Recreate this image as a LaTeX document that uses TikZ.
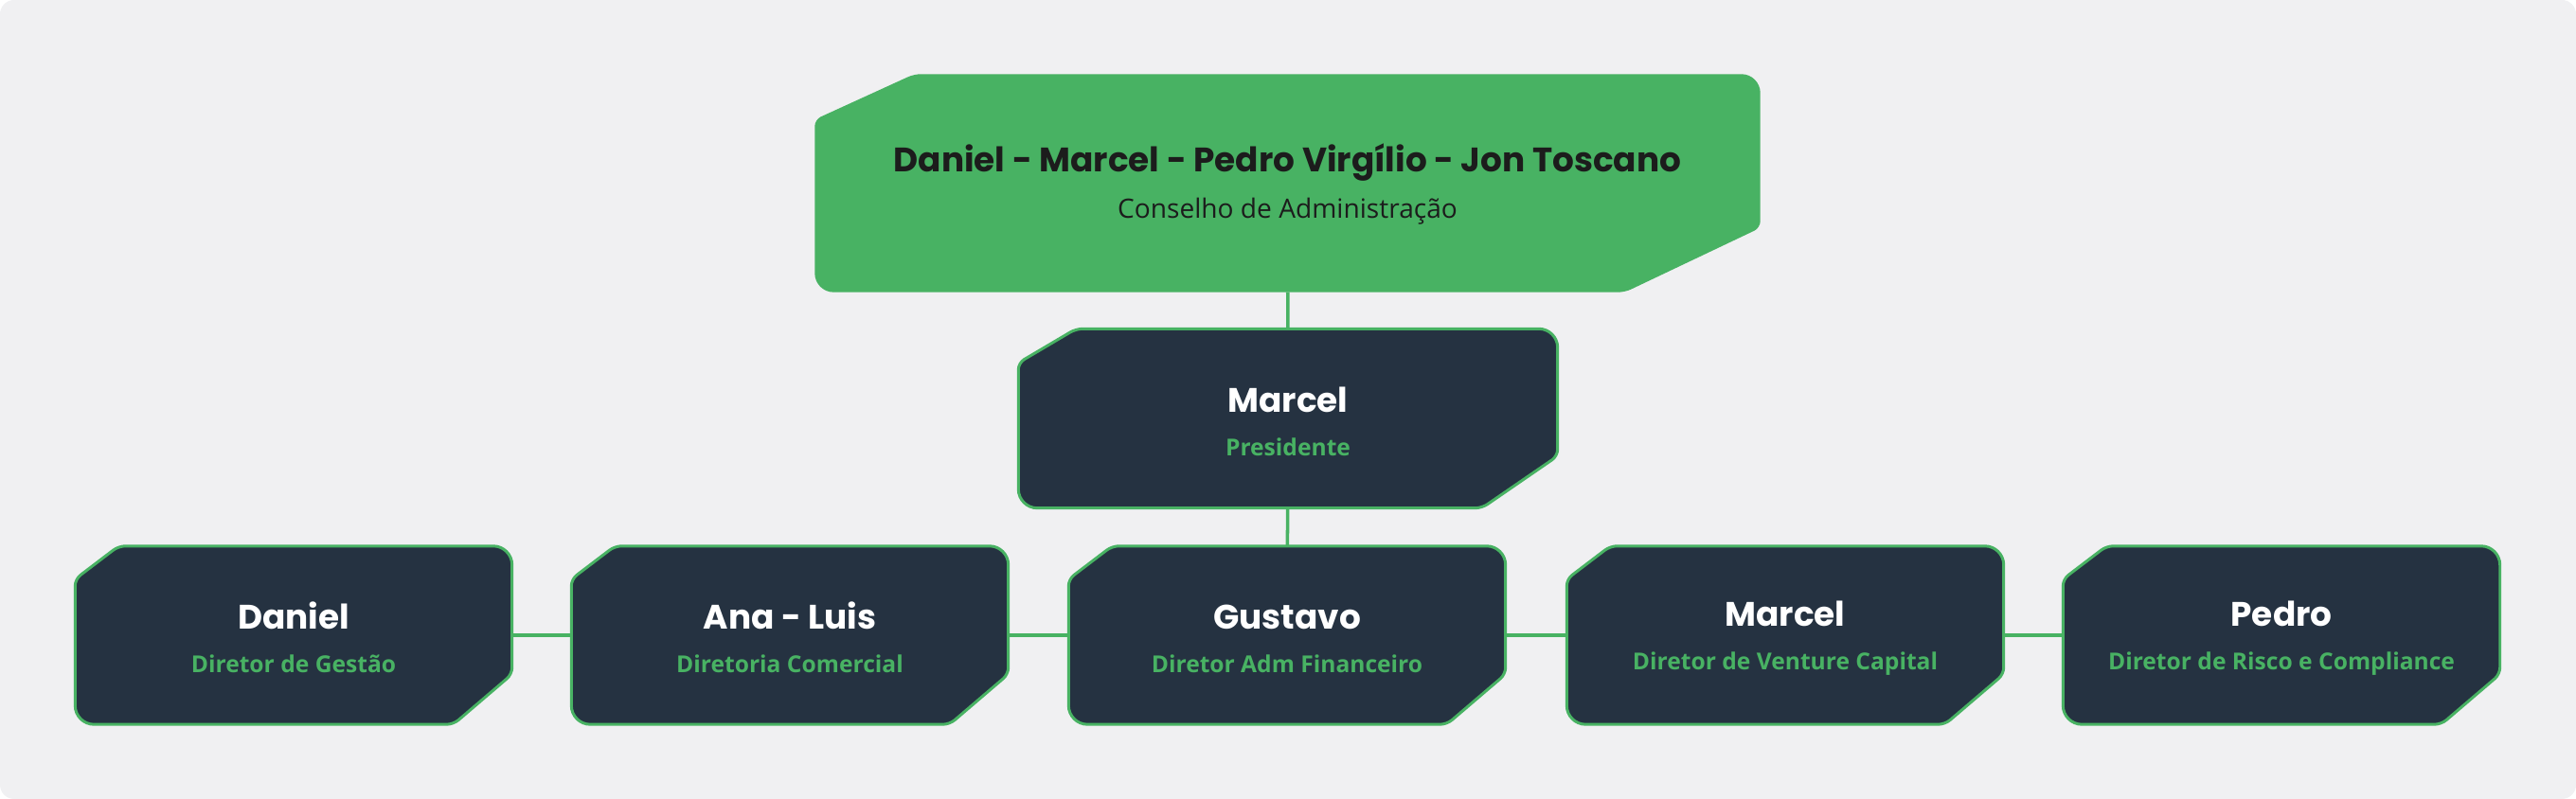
\documentclass[tikz,border=0pt]{standalone}
\usepackage{fontspec}
\usepackage{xcolor}
\usepackage{tikz}
\setmainfont{Open Sans}
\newfontfamily\popfont{Poppins}
\usetikzlibrary{positioning,calc,backgrounds}

\definecolor{leafgreen}{HTML}{48B263}
\definecolor{slate}{HTML}{253241}
\definecolor{paper}{HTML}{F0F0F2}
\definecolor{ink}{HTML}{1C1C1C}

% outline with two cut corners: style, node, top-left dx/dy, bottom-right dx/dy
\newcommand{\cutbox}[6]{%
  \path[#1] ($(#2.north west)+(0,-#4)$) [rounded corners=0.07cm] -- ($(#2.north west)+(#3,0)$)
    [rounded corners=0.2cm] -- (#2.north east) [rounded corners=0.07cm]
    -- ($(#2.south east)+(0,#6)$) -- ($(#2.south east)+(-#5,0)$)
    [rounded corners=0.2cm] -- (#2.south west) [rounded corners=0.07cm] -- cycle;}

\tikzset{
  card/.style={inner sep=0pt, align=center, minimum width=4.6cm, minimum height=1.87cm,
    font=\fontsize{7}{13}\selectfont},
  slatefill/.style={fill=slate, draw=leafgreen, line width=0.85pt},
  link/.style={leafgreen, line width=1pt}
}

\begin{document}
\begin{tikzpicture}
    \useasboundingbox (0,0) rectangle (27.2,8.44);

    % Board
    \node[inner sep=0pt, align=center, minimum width=9.97cm, minimum height=2.29cm,
          font=\fontsize{8}{14}\selectfont, text=ink] (board) at (13.595,6.505)
        {{\popfont\bfseries\fontsize{10.2}{14}\selectfont\rule{0pt}{9.1pt}Daniel - Marcel - Pedro Virgílio - Jon Toscano}\\
         Conselho de Administração};

    % President
    \node[card, minimum width=5.68cm, minimum height=1.88cm] (pres) at (13.60,4.02)
        {{\popfont\bfseries\fontsize{10.2}{13}\selectfont\color{white}\rule{0pt}{9.5pt}Marcel}\\
         {\bfseries\color{leafgreen} Presidente}};

    % Directors
    \foreach \x/\id/\who/\role in {3.10/gestao/Daniel/Diretor de Gestão,
                                   8.34/comercial/Ana - Luis/Diretoria Comercial,
                                   13.59/financeiro/Gustavo/Diretor Adm Financeiro,
                                   18.85/venture/Marcel/Diretor de Venture Capital,
                                   24.09/risco/Pedro/Diretor de Risco e Compliance} {
        \node[card] (\id) at (\x,1.73)
            {{\popfont\bfseries\fontsize{10.2}{13}\selectfont\color{white}\rule{0pt}{9.5pt}\who}\\
             {\bfseries\color{leafgreen} \role}};
    }

    % Shapes behind the text
    \begin{scope}[on background layer]
        \fill[paper, rounded corners=0.15cm] (0,0) rectangle (27.2,8.44);
        \cutbox{fill=leafgreen}{board}{1.05}{0.48}{1.43}{0.68}
        \cutbox{slatefill}{pres}{0.61}{0.36}{0.80}{0.55}
        \foreach \id in {gestao,comercial,financeiro,venture,risco}
            \cutbox{slatefill}{\id}{0.46}{0.35}{0.62}{0.53};
    \end{scope}

    % Links
    \draw[link] (board) -- (pres);
    \draw[link] (pres) -- (financeiro);
    \draw[link] (gestao) -- (comercial);
    \draw[link] (comercial) -- (financeiro);
    \draw[link] (financeiro) -- (venture);
    \draw[link] (venture) -- (risco);
\end{tikzpicture}
\end{document}
